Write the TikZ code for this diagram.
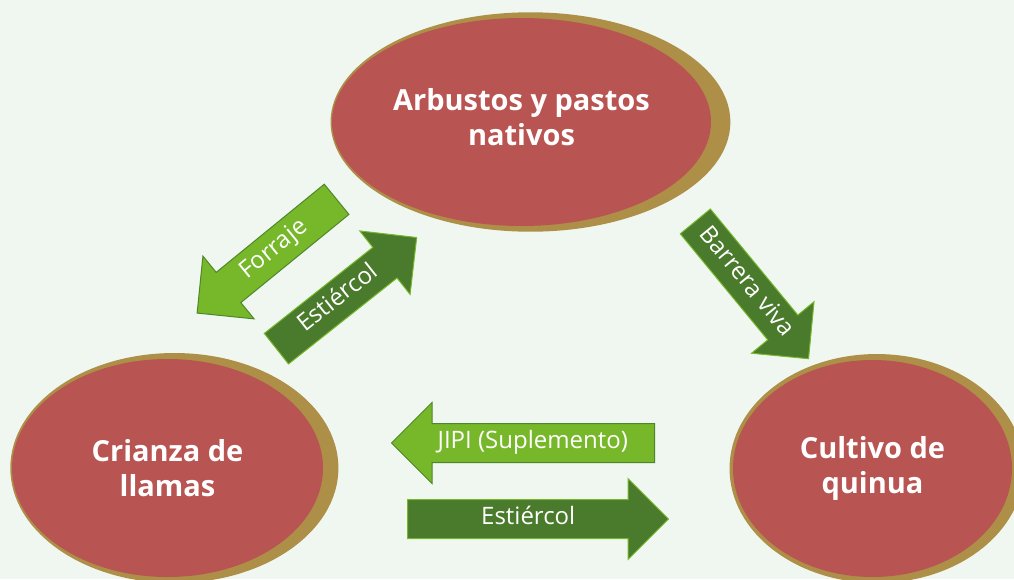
\documentclass[tikz,border=0pt]{standalone}
\usepackage{fontspec}
\setmainfont{Open Sans}
\usetikzlibrary{shapes.geometric,shapes.arrows,shadows}

\definecolor{fondo}{RGB}{240,247,241}
\definecolor{rojo}{RGB}{184,84,81}
\definecolor{oro}{RGB}{173,143,71}
\definecolor{verdeclaro}{RGB}{119,184,43}
\definecolor{verdeoscuro}{RGB}{74,122,43}
\definecolor{bordeclaro}{RGB}{78,135,42}

\tikzset{
  texto/.style={text=white, inner sep=0pt, align=center, font=\bfseries\fontsize{29}{35}\selectfont},
  nodo/.style={ellipse, fill=rojo, texto},
  sombra/.style={general shadow={fill=oro, shadow scale=1.055, shadow xshift=#1}},
  flecha/.style={single arrow, single arrow head extend=21pt, single arrow tip angle=90,
    minimum width=80pt, inner xsep=2pt, inner ysep=9.5pt, text height=15pt, text depth=4pt,
    text=white, anchor=tail, line width=1pt},
  clara/.style={flecha, fill=verdeclaro, draw=bordeclaro},
  oscura/.style={flecha, fill=verdeoscuro, draw=verdeclaro}
}

\begin{document}
\begin{tikzpicture}[x=1pt,y=-1pt]
    \fill[fondo] (0,0) rectangle (1014,579);
    \useasboundingbox (0,0) rectangle (1014,579);
    %%%%% THE ELLIPSES
    \node[nodo, sombra=8.5pt, minimum width=379pt, minimum height=208pt,
      label={[texto, yshift=5pt]center:{Arbustos y pastos\\nativos}}] (arbustos) at (521.5,122) {};
    \node[nodo, sombra=6.5pt, minimum width=311pt, minimum height=218pt] (llamas) at (167.5,468)
      {Crianza de\\llamas};
    \node[nodo, sombra=4pt, minimum width=279pt, minimum height=217pt] (quinua) at (872.5,468.5)
      {Cultivo de\\quinua};
    %%%%% THE ARROWS
    \begin{scope}[font=\fontsize{24}{28}\selectfont]
      \node[clara, rotate=39.2, shape border rotate=180, minimum height=180pt] (forraje) at (337,199) {Forraje};
      \node[oscura, rotate=38.4, minimum height=179pt] (estiercolA) at (276,349) {Estiércol};
      \node[oscura, rotate=-50.5, minimum height=178pt] (barrera) at (695,221) {Barrera viva};
      \node[clara, shape border rotate=180, minimum height=263pt] (jipi) at (655,443) {JIPI (Suplemento)};
      \node[oscura, minimum height=261pt] (estiercolB) at (407,519) {Estiércol};
    \end{scope}
\end{tikzpicture}
\end{document}
